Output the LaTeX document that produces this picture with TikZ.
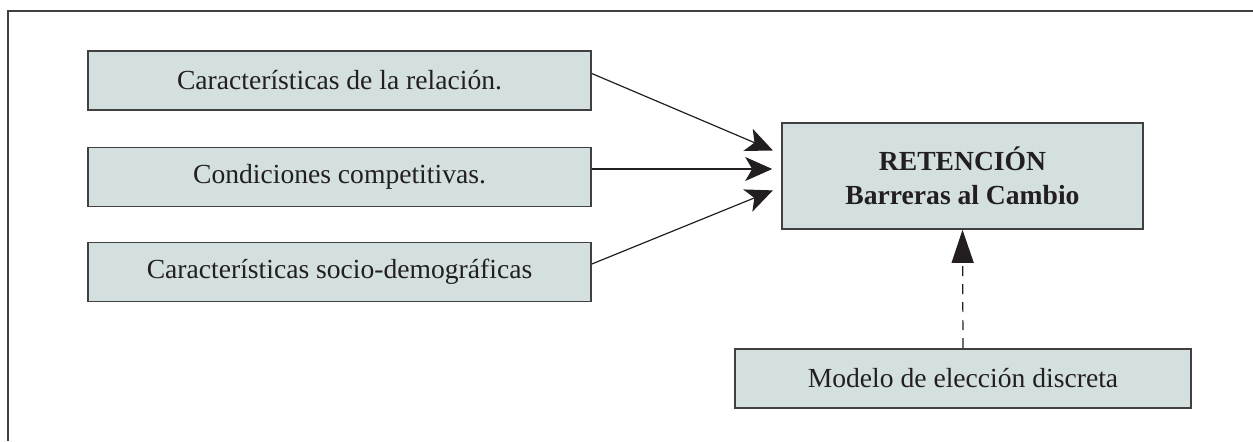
\documentclass[tikz,border=0pt]{standalone}
\usepackage{fontspec}
\setmainfont{Liberation Serif}
\usetikzlibrary{arrows.meta}
\definecolor{boxfill}{RGB}{212,223,223}
\definecolor{boxline}{RGB}{64,64,64}
\definecolor{ink}{RGB}{35,31,32}

\begin{document}
\begin{tikzpicture}[x=0.5pt,y=-0.5pt]
\tikzstyle{every node}+=[inner sep=0pt, text=ink, font=\fontsize{13.8}{17}\selectfont]
\tikzstyle{factor}=[draw=boxline, line width=0.8pt, fill=boxfill, minimum width=251.5pt, minimum height=29.5pt]
\tikzstyle{flecha}=[draw=ink, line width=0.6pt, -{Stealth[length=13.5pt, width=12pt, inset=3.5pt]}, shorten >=4.5pt]

\useasboundingbox (0,0) rectangle (1253,441);
\draw [boxline, line width=1pt] (1253,11) -- (8,11) -- (8,441);

\node [factor] (rel) at (339.5,80.5) {Características de la relación.};
\node [factor] (comp) at (339.5,177) {Condiciones competitivas.};
\node [factor] (socio) at (339.5,272) {Características socio-demográficas};
\node [factor, minimum width=180.5pt, minimum height=53pt, align=center, font=\fontsize{13.8}{17}\selectfont\bfseries] (ret) at (962.5,176) {RETENCIÓN\\ Barreras al Cambio};
\node [factor, minimum width=228pt] (modelo) at (963,378.5) {Modelo de elección discreta};

\draw [flecha] ([yshift=3.5pt]rel.east) -- ([yshift=11pt]ret.west);
\draw [flecha] ([yshift=4pt]comp.east) -- ([yshift=3.5pt]ret.west);
\draw [flecha] ([yshift=4pt]socio.east) -- ([yshift=-5.5pt]ret.west);
\draw [draw=ink, line width=0.6pt, dash pattern=on 5pt off 4pt, -{Triangle[length=16.5pt, width=11pt]}] (modelo.north) -- (ret.south);
\end{tikzpicture}
\end{document}
